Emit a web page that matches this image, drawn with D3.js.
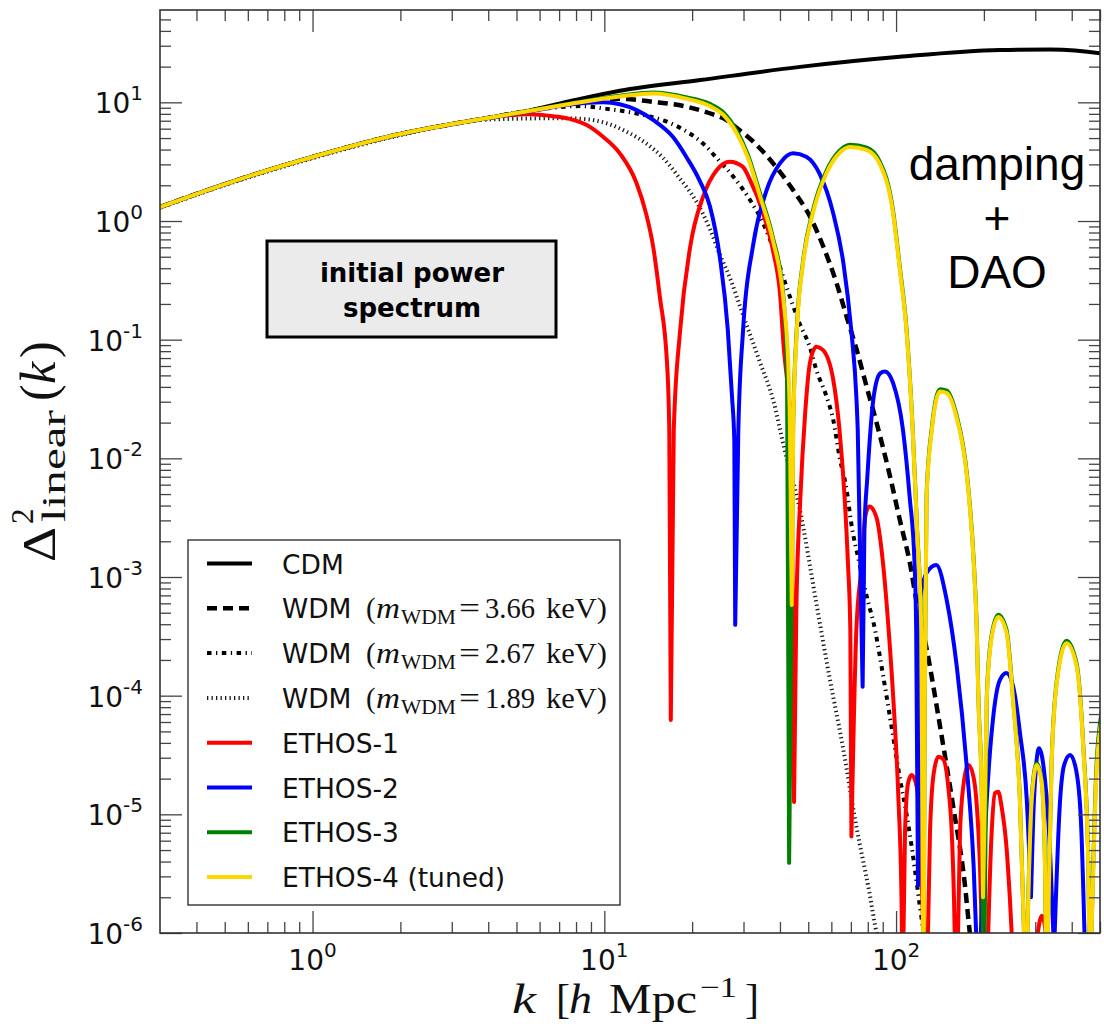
<!DOCTYPE html>
<html><head><meta charset="utf-8">
<script src="https://cdn.jsdelivr.net/npm/d3@7"></script>
<style>body{margin:0;background:#fff}</style>
</head><body>
<svg id="chart" width="1104" height="1030" xmlns="http://www.w3.org/2000/svg"></svg>
<script>
// ---------- data: [k (h/Mpc), Delta^2_linear] ----------
const cdm = [[0.3,1.31],[0.52,2.11],[1,3.46],[2,5.41],[3.46,6.96],[5.13,8.2],[7.61,10.2],[11.3,12.5],[21.3,15.4],[46.9,19.9],[103,24.2],[227,27.6],[338,27.9],[500,25.9],[530,25.3]];
const wdm366 = [[0.3,1.31],[0.52,2.11],[1,3.46],[2,5.41],[3.46,6.96],[5.13,8.2],[8.7,10.2],[11.3,10.7],[14.7,10.1],[19.1,9.2],[23.6,7.9],[26,7.2],[28.4,6.1],[32.3,4.7],[37.9,3.06],[44.4,1.82],[50.7,1.09],[56.3,0.61],[62.5,0.30],[67.7,0.156],[73.3,0.082],[79.3,0.040],[85.8,0.0198],[95.4,7.0e-3],[103,3.03e-3],[111.6,1.3e-3],[117.8,6.0e-4],[127.5,2.43e-4],[141.5,5.5e-5],[157,1.16e-5],[172,2.6e-6],[179,1e-6],[190,4e-7]];
const wdm267 = [[0.3,1.31],[0.52,2.11],[1,3.46],[2,5.4],[3.46,6.93],[6.34,8.9],[8.25,9.3],[9.9,8.9],[14.3,7.6],[16.3,6.9],[19.2,5.65],[21.8,4.5],[24.6,3.27],[27.7,2.36],[31.6,1.5],[35,0.96],[38.9,0.50],[42.1,0.28],[46.7,0.137],[50.6,0.087],[53.3,0.0556],[57.8,0.033],[60.9,0.0211],[64,0.0103],[67.7,5.4e-3],[70.2,2.84e-3],[74.9,1.3e-3],[79.4,6.8e-4],[84.7,3.6e-4],[87.6,2.28e-4],[92.4,1.05e-4],[97.9,4.4e-5],[103,2.03e-5],[108.5,1.02e-5],[113,5.4e-6],[116.1,3.4e-6],[120.7,1.67e-6],[125.4,8.8e-7]];
const wdm189 = [[0.3,1.29],[0.52,2.07],[1,3.38],[2,5.28],[3.95,7.15],[7.05,7.35],[8.7,7.2],[10.2,6.65],[11.9,5.66],[13.9,4.52],[15.9,3.4],[18.1,2.3],[20.7,1.45],[23,0.86],[24.9,0.52],[27.1,0.32],[29.2,0.19],[31.6,0.11],[34.2,0.064],[37.9,0.031],[41.5,0.0118],[46.7,3.8e-3],[53.3,6.0e-4],[59.1,1.44e-4],[65.7,3.7e-5],[73.1,7.9e-6],[81,2.2e-6],[85.8,1e-6],[89.5,7.2e-7]];
const ethos1 = [[0.3,1.31],[0.52,2.11],[1,3.46],[2,5.41],[3.46,6.96],[4.5,7.7],[5.5,7.95],[6.68,7.65],[7.61,7.25],[8.7,6.44],[9.9,5.13],[11.3,3.72],[12.9,2.08],[13.9,1.16],[14.7,0.61],[15.5,0.23],[16.4,0.064],[16.7,0.0173],[16.9,6.25e-5],
  [17.3,0.0173],[18.2,0.121],[19.7,0.61],[21.8,1.6],[24.3,2.69],[26.9,3.16],[29.8,2.87],[31.6,2.21],[35,1.17],[38,0.54],[40,0.247],[41.2,0.087],[42.9,0.033],[43.8,0.0173],[44.7,1.27e-5],
  [45.5,5e-4],[47,4.75e-3],[48.8,0.024],[50.7,0.064],[53.3,0.087],[56.1,0.082],[60.9,0.046],[64,0.0173],[66.6,4.75e-3],[68.4,1.31e-3],[69.7,3.6e-4],[70.3,6.5e-6],
  [73.1,3.6e-4],[76.4,1.31e-3],[78.4,3.23e-3],[81,3.92e-3],[85.5,3.23e-3],[90.2,1.31e-3],[94.3,3.6e-4],[97.9,9.2e-5],[101.9,1.33e-5],[104.4,1.9e-6],[105.3,3e-7],
  [107.3,7e-6],[110,1.85e-5],[113.1,2.15e-5],[117.8,1.7e-5],[120.8,7e-6],[123.1,1.9e-6],[126.2,1e-7],
  [130.7,7e-6],[134.2,2.1e-5],[139.6,3.05e-5],[145.2,2.9e-5],[151,1.7e-5],[155.2,7e-6],[158,1.9e-6],[161,2e-7],
  [165.6,7e-6],[169.9,1.7e-5],[177,2.6e-5],[184,2.1e-5],[189,1.2e-5],[194,3.6e-6],[202,1e-7],
  [212.6,7e-6],[218.3,1.51e-5],[224,1.55e-5],[230,1.16e-5],[239.5,5e-6],[245.7,1.9e-6],[274,1e-8],
  [306,1e-6],[316,1.4e-6],[326,1e-6],[359,1e-8]];
const ethos2 = [[0.3,1.31],[0.52,2.11],[1,3.46],[2,5.41],[3.46,6.96],[5.86,8.6],[7.62,9.6],[9.9,10.0],[12.9,8.6],[14.7,7.1],[17.2,5.1],[19.2,3.4],[21.2,2.2],[23,1.34],[24.9,0.49],[26.5,0.121],[27.4,0.033],[27.9,0.014],[28.1,3.95e-4],
  [28.8,0.0173],[29.9,0.121],[32.3,0.61],[36,1.82],[40,3.06],[44.4,3.72],[49.2,3.48],[54.6,2.52],[60.9,1.16],[66,0.44],[70.2,0.121],[73.1,0.033],[73.9,0.0173],[76.8,1.19e-4],
  [77.9,2.5e-3],[79.6,6.6e-3],[83.8,0.033],[88.2,0.052],[91.6,0.054],[97.7,0.043],[105.6,0.0173],[111.3,4.75e-3],[115.7,1.3e-3],[117.2,3.6e-4],[118.9,2.5e-6],
  [120.8,6.4e-4],[127.2,1.08e-3],[137.4,1.26e-3],[149.1,6.4e-4],[161.5,1.75e-4],[174.7,2.5e-5],[184.5,3.6e-6],[191.6,3e-7],
  [204.6,1.33e-5],[215.4,6.7e-5],[227,1.36e-4],[239,1.55e-4],[252,1.19e-4],[266,4.8e-5],[280.5,1.33e-5],[290,2e-6],
  [297,1.33e-5],[309,3.6e-5],[324,1.95e-5],[337,5e-6],[348,7e-7],
  [365,1.33e-5],[376.7,2.6e-5],[395,3.17e-5],[414,2.37e-5],[430,9e-6],[448,3e-7]];
const ethos3 = [[0.3,1.31],[0.52,2.11],[1,3.46],[2,5.41],[3.46,6.96],[5.13,8.2],[7.61,9.75],[11.3,11.35],[14.7,12.1],[19.2,11.0],[23,9.7],[25.5,8.3],[28.4,5.8],[31,3.65],[34.2,1.7],[37.8,0.73],[41,0.245],[42.3,0.05],[43.0,3.9e-6],
  [44.4,0.019],[45.7,0.128],[48,0.46],[51.9,1.23],[57.8,2.66],[64,3.92],[69.5,4.4],[79.4,4.15],[87.6,3.23],[97.6,1.23],[103,0.41],[108.5,0.127],[114,0.018],[118,2.6e-3],[122,3.8e-4],[124.2,3e-7],
  [125.4,9.6e-5],[127.2,5e-3],[132.6,0.0182],[141.5,0.0383],[149.2,0.0373],[160.8,0.0236],[175.4,6.9e-3],[184.6,1.37e-3],[189,3.8e-4],[191.5,9.7e-5],[196.8,1.4e-5],[199.5,1e-7],
  [204.6,9.7e-5],[212,3.1e-4],[224,4.8e-4],[239,3.6e-4],[251.6,9.7e-5],[265.6,1.4e-5],[278.7,3e-7],
  [291.7,1.4e-5],[303.5,2.7e-5],[315.5,1.95e-5],[324,3.8e-6],[327.8,3e-7],
  [341,2.6e-5],[355.3,1.33e-4],[384,2.9e-4],[415.9,1.85e-4],[438.5,3.7e-5],[456,3.8e-6],[462,3e-7],
  [487.5,2.9e-5],[500,5.9e-5],[525,9.5e-5]];
const ethos4 = [[0.3,1.31],[0.52,2.11],[1,3.46],[2,5.41],[3.46,6.96],[5.13,8.2],[7.61,9.68],[11.3,11.2],[14.7,11.9],[19.2,10.7],[23,9.3],[25.5,7.9],[28.4,5.5],[31,3.46],[34.2,1.6],[37.8,0.69],[41,0.23],[42.7,0.063],[43.3,0.0173],[43.9,5.8e-4],
  [44.4,0.0173],[45.7,0.121],[48,0.44],[51.9,1.17],[57.8,2.54],[64,3.74],[69.5,4.2],[79.4,3.96],[87.6,3.08],[97.6,1.17],[103,0.39],[108.5,0.121],[114,0.0173],[118,2.5e-3],[122,3.6e-4],[124.2,3e-7],
  [125.4,9.2e-5],[127.2,4.75e-3],[132.6,0.0173],[141.5,0.0365],[149.2,0.0355],[160.8,0.0225],[175.4,6.6e-3],[184.6,1.3e-3],[189,3.6e-4],[191.5,9.2e-5],[196.8,1.33e-5],[198.6,2e-6],
  [204.6,9.2e-5],[212,2.95e-4],[224,4.6e-4],[239,3.4e-4],[251.6,9.2e-5],[265.6,1.33e-5],[278.7,3e-7],
  [291.7,1.33e-5],[303.5,2.6e-5],[315.5,1.85e-5],[324,3.6e-6],[327.8,3e-7],
  [341,2.5e-5],[355.3,1.27e-4],[384,2.77e-4],[415.9,1.76e-4],[438.5,3.5e-5],[456,3.6e-6],[462,3e-7],
  [487.5,2.5e-5],[500,5.1e-5],[525,8.4e-5]];

const xMajorTicks = [1, 10, 100];
const xMinorTicks = [0.4,0.5,0.6,0.7,0.8,0.9,2,3,4,5,6,7,8,9,20,30,40,50,60,70,80,90,200,300,400,500];
const yMajorTicks = [1e-6,1e-5,1e-4,1e-3,1e-2,1e-1,1,10];
const yMinorMantissas = [2,3,4,5,6,7,8,9];
const xTickExp = ['0','1','2'];
const yTickExp = ['-6','-5','-4','-3','-2','-1','0','1'];

const series = [
  {name:'CDM', data:cdm, color:'#000', width:4, dash:null, split:false},
  {name:'WDM', mass:'3.66', data:wdm366, color:'#000', width:4.5, dash:'10,6', split:false},
  {name:'WDM', mass:'2.67', data:wdm267, color:'#000', width:4, dash:'4.5,4.5,1.3,4.5', split:false},
  {name:'WDM', mass:'1.89', data:wdm189, color:'#1a1a1a', width:4, dash:'1.3,3.2', split:false},
  {name:'ETHOS-1', data:ethos1, color:'#ff0000', width:4, dash:null, split:true},
  {name:'ETHOS-2', data:ethos2, color:'#0000ff', width:4, dash:null, split:true},
  {name:'ETHOS-3', data:ethos3, color:'#008000', width:4, dash:null, split:true},
  {name:'ETHOS-4 (tuned)', data:ethos4, color:'#ffd700', width:4, dash:null, split:true}
];

// ---------- layout ----------
const svg = d3.select('#chart');
const X0 = 160, X1 = 1100, Y0 = 10, Y1 = 933;
const x = d3.scaleLog().domain([0.3, 500]).range([X0, X1]);
const y = d3.scaleLog().domain([1e-6, 60]).range([Y1, Y0]);
const SANS = 'DejaVu Sans, Liberation Sans, sans-serif';
const SERIF = 'Liberation Serif, DejaVu Serif, serif';
const yMinorTicks = [];
yMajorTicks.forEach(p => yMinorMantissas.forEach(m => { const v = m * p; if (v < y.domain()[1]) yMinorTicks.push(v); }));

svg.append('rect').attr('width',1104).attr('height',1030).attr('fill','#fff');
svg.append('defs').append('clipPath').attr('id','plotclip')
  .append('rect').attr('x',X0).attr('y',Y0).attr('width',X1-X0).attr('height',Y1-Y0);

// split a curve into lobes at its local minima (the cusps of the oscillations)
function lobes(pts){
  const segs = []; let cur = [pts[0]];
  for (let i = 1; i < pts.length; i++) {
    cur.push(pts[i]);
    if (i < pts.length-1 && pts[i][1] < pts[i-1][1] && pts[i][1] < pts[i+1][1]) { segs.push(cur); cur = [pts[i]]; }
  }
  segs.push(cur); return segs;
}
const line = d3.line().x(d => x(d[0])).y(d => y(d[1])).curve(d3.curveMonotoneX);

const gLines = svg.append('g').attr('clip-path','url(#plotclip)');
series.forEach(s => {
  const d = s.split ? lobes(s.data).map(seg => line(seg)).join('') : line(s.data);
  gLines.append('path').attr('d', d).attr('fill','none')
    .attr('stroke', s.color).attr('stroke-width', s.width)
    .attr('stroke-dasharray', s.dash).attr('stroke-linejoin','round')
    .attr('stroke-linecap', s.dash ? 'butt' : 'round');
});

// ---------- axes (inward ticks on all four sides) ----------
function ticks(gen, vals, size, tr){
  const g = svg.append('g').attr('transform', tr)
    .call(gen.tickValues(vals).tickSize(size).tickSizeOuter(0).tickFormat(''));
  g.select('.domain').remove();
  g.selectAll('line').attr('stroke','#444').attr('stroke-width',1.3);
}
ticks(d3.axisBottom(x), xMajorTicks, -22, `translate(0,${Y1})`);
ticks(d3.axisBottom(x), xMinorTicks, -11, `translate(0,${Y1})`);
ticks(d3.axisTop(x), xMajorTicks, -22, `translate(0,${Y0})`);
ticks(d3.axisTop(x), xMinorTicks, -11, `translate(0,${Y0})`);
ticks(d3.axisLeft(y), yMajorTicks, -22, `translate(${X0},0)`);
ticks(d3.axisLeft(y), yMinorTicks, -11, `translate(${X0},0)`);
ticks(d3.axisRight(y), yMajorTicks, -22, `translate(${X1},0)`);
ticks(d3.axisRight(y), yMinorTicks, -11, `translate(${X1},0)`);
svg.append('rect').attr('x',X0).attr('y',Y0).attr('width',X1-X0).attr('height',Y1-Y0)
  .attr('fill','none').attr('stroke','#333').attr('stroke-width',1.6);

// tick labels
xMajorTicks.forEach((v,i) => {
  const t = svg.append('text').attr('x', x(v)).attr('y', 970).attr('text-anchor','middle')
    .style('font-family',SANS).style('font-size','28px').attr('fill','#111');
  t.append('tspan').text('10');
  t.append('tspan').attr('dy',-13).style('font-size','20px').text(xTickExp[i]);
});
yMajorTicks.forEach((v,i) => {
  const t = svg.append('text').attr('x', 143).attr('y', y(v)+11).attr('text-anchor','end')
    .style('font-family',SANS).style('font-size','28px').attr('fill','#111');
  t.append('tspan').text('10');
  t.append('tspan').attr('dy',-13).style('font-size','20px').text(yTickExp[i]);
});

// axis titles (math set piece by piece)
function piece(g, txt, px, py, size, opts = {}){
  const t = g.append('text').attr('x',px).attr('y',py)
    .style('font-family',SERIF).style('font-size',size+'px').attr('fill','#111').text(txt);
  if (opts.italic) t.style('font-style','italic');
  if (opts.len) t.attr('textLength',opts.len).attr('lengthAdjust','spacingAndGlyphs');
  return t;
}
const xl = svg.append('g');
piece(xl,'k',512,1013,42,{italic:true,len:24});
piece(xl,'[',556,1013,42);
piece(xl,'h',569,1013,42,{italic:true,len:23});
piece(xl,'Mpc',609,1013,42,{len:88});
piece(xl,'\u22121',700,997,29,{len:37});
piece(xl,']',745,1013,42);

const yl = svg.append('g').attr('transform','rotate(-90)');
piece(yl,'\u0394',-562,55,46,{len:35});
piece(yl,'2',-524,33,31);
piece(yl,'linear',-522,65,34,{len:112});
piece(yl,'(',-401,55,50);
piece(yl,'k',-384,55,50,{italic:true});
piece(yl,')',-358,55,50);

// ---------- annotation texts ----------
svg.append('rect').attr('x',267).attr('y',241).attr('width',289).attr('height',96)
  .attr('fill','#ebebeb').attr('stroke','#000').attr('stroke-width',3);
['initial power','spectrum'].forEach((s,i) => {
  svg.append('text').attr('x',412).attr('y',282 + i*35).attr('text-anchor','middle')
    .style('font-family','DejaVu Sans, sans-serif').style('font-weight','bold')
    .style('font-size','26px').attr('fill','#000').text(s);
});
['damping','+','DAO'].forEach((s,i) => {
  svg.append('text').attr('x',997).attr('y',180 + i*54).attr('text-anchor','middle')
    .style('font-family','Liberation Sans, Arial, sans-serif')
    .style('font-size','46px').attr('fill','#000').text(s);
});

// ---------- legend ----------
const lg = svg.append('g');
lg.append('rect').attr('x',188).attr('y',540).attr('width',432).attr('height',365)
  .attr('fill','#fff').attr('stroke','#222').attr('stroke-width',1.3);
series.forEach((s,i) => {
  const cy = 563.5 + i*44.8;
  lg.append('line').attr('x1',207).attr('x2',252).attr('y1',cy).attr('y2',cy)
    .attr('stroke',s.color).attr('stroke-width',s.width).attr('stroke-dasharray',s.dash);
  const by = cy + 10;
  lg.append('text').attr('x',282).attr('y',by)
    .style('font-family',SANS).style('font-size','26.5px').attr('fill','#111')
    .text(s.mass ? 'WDM' : s.name);
  if (s.mass) {
    piece(lg,'(',366,by,29);
    piece(lg,'m',376,by,29,{italic:true,len:24});
    piece(lg,'WDM',401,by+6,21,{len:55});
    piece(lg,'=',459,by,29,{len:21});
    piece(lg,s.mass,485,by,29,{len:50});
    piece(lg,'keV)',546,by,29,{len:61});
  }
});
</script>
</body></html>
